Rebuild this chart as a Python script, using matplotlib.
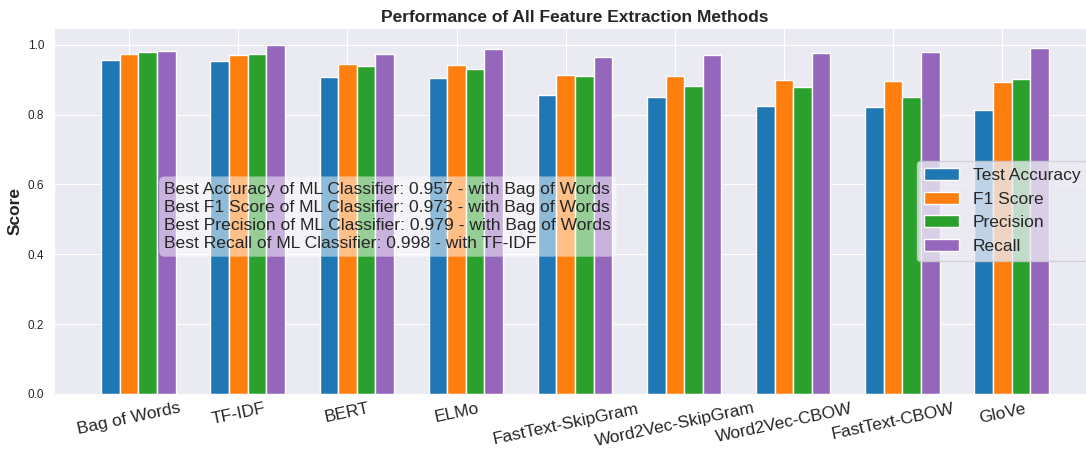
import matplotlib
matplotlib.use("Agg")
import matplotlib.pyplot as plt
import seaborn as sns
import numpy as np

# feature extraction methods and their scores
methods = ["Bag of Words", "TF-IDF", "BERT", "ELMo", "FastText-SkipGram",
           "Word2Vec-SkipGram", "Word2Vec-CBOW", "FastText-CBOW", "GloVe"]
accuracy = [0.957, 0.952, 0.909, 0.905, 0.856, 0.851, 0.825, 0.822, 0.812]
f1 = [0.973, 0.971, 0.944, 0.941, 0.914, 0.911, 0.899, 0.897, 0.892]
precision = [0.979, 0.973, 0.938, 0.931, 0.911, 0.881, 0.879, 0.851, 0.901]
recall = [0.983, 0.998, 0.973, 0.987, 0.966, 0.971, 0.977, 0.980, 0.991]
series_names = ["Test Accuracy", "F1 Score", "Precision", "Recall"]

sns.set_style("darkgrid")
plt.rcParams['font.family'] = ['Liberation Sans', 'DejaVu Sans']

fig = plt.figure(figsize=(10.86, 4.5), dpi=100)
ax = fig.add_axes([54 / 1086, 56 / 450, 1042 / 1086, 366 / 450])

x = np.arange(len(methods))
width = 0.17
colors = ["#1f77b4", "#ff7f0e", "#2ca02c", "#9467bd"]
all_scores = [accuracy, f1, precision, recall]
for i, (name, vals) in enumerate(zip(series_names, all_scores)):
    ax.bar(x + (i - 1) * width, vals, width, label=name, color=colors[i],
           edgecolor="white", linewidth=1)

ax.set_xticks(x)
ax.set_xticklabels(methods, rotation=12, fontsize=12.5)
ax.tick_params(axis="x", length=0, pad=5)
ax.tick_params(axis="y", labelsize=8.5)
ax.set_ylabel("Score", fontsize=12.5, fontweight="bold")
ax.set_title("Performance of All Feature Extraction Methods", fontsize=12.5,
             fontweight="bold", pad=4)
ax.legend(loc="center right", fontsize=12.5)


def best(vals):
    k = int(np.argmax(vals))
    return vals[k], methods[k]


lines = []
for label, vals in zip(["Accuracy", "F1 Score", "Precision", "Recall"], all_scores):
    v, m = best(vals)
    lines.append(f"Best {label} of ML Classifier: {v:.3f} - with {m}")
ax.text(0.106, 0.58, "\n".join(lines), transform=ax.transAxes, fontsize=12.6,
        va="top", ha="left", linespacing=1.27,
        bbox=dict(boxstyle="round", facecolor="white", alpha=0.5, edgecolor="none"))

fig.savefig("out.png", dpi=100)
